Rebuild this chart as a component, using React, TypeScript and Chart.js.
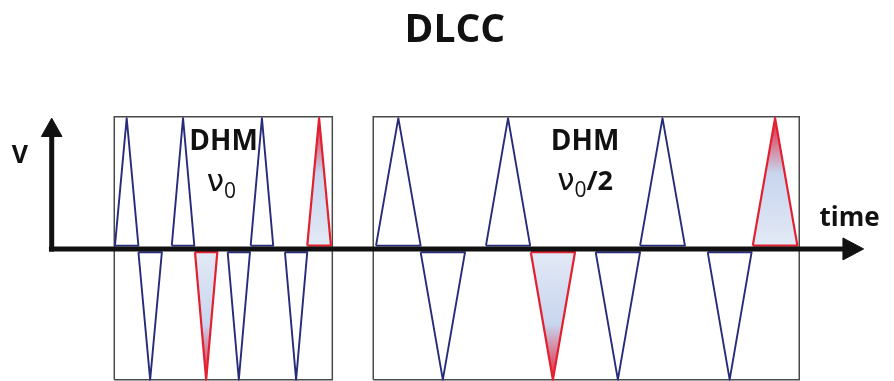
import React, { useEffect, useRef } from "react";
import { Chart, registerables } from "chart.js";

Chart.register(...registerables);

// ---- scale ranges (time in pulse units, V in amplitude units) ----
const X_MIN = -2.248;
const X_MAX = 36.62;
const Y_MIN = -1.01;
const Y_MAX = 1.506;

// ---- pulses ----
const pulseStart = [2.75, 3.77, 5.22, 6.23, 7.65, 8.65, 10.14, 11.11, 14.1, 16.04, 18.88, 20.83, 23.65, 25.58, 28.52, 30.48];
const pulseEnd = [3.77, 4.79, 6.2, 7.2, 8.62, 9.63, 11.11, 12.14, 16.04, 17.97, 20.8, 22.75, 25.58, 27.53, 30.43, 32.42];
const pulseSign = [1, -1, 1, -1, -1, 1, -1, 1, 1, -1, 1, -1, -1, 1, -1, 1];
const pulseMarked = [false, false, false, true, false, false, false, true, false, false, false, true, false, false, false, true];
const pulseAmplitude = 1;
const baseOffset = 0.025;

// ---- boxes ----
const boxLeft = [2.72, 13.98];
const boxRight = [12.2, 32.5];
const boxTop = 1.01;
const boxBottom = -1.0;

// ---- axes ----
const xAxisStart = -0.12;
const xAxisEnd = 34.4;
const xArrowTip = 35.3;
const xArrowHalf = 0.084;
const yAxisBottom = -0.02;
const yAxisEnd = 0.86;
const yArrowTip = 1.0;
const yArrowHalf = 0.448;

// ---- labels ----
const titleText = "DLCC";
const titleT = 17.53;
const titleV = 1.582;
const labelText = ["V", "time", "DHM", "DHM"];
const labelT = [-1.38, 33.38, 7.47, 23.19];
const labelV = [0.659, 0.178, 0.758, 0.758];
const labelAlign: CanvasTextAlign[] = ["center", "left", "center", "center"];
const labelSize = [25, 26, 28, 28];
const nuT = [7.38, 23.19];
const nuV = [0.44, 0.45];
const nuSuffix = ["", "/2"];

const BLUE = "#262b7a";
const RED = "#e3202f";
const BOX = "#4a4a4a";
const INK = "#111111";

const redFill = (sign: number) => (ctx: any) => {
  const chart = ctx.chart;
  if (!chart.chartArea) return "rgba(0,0,0,0)";
  const ys = chart.scales.y;
  const y0 = ys.getPixelForValue(0);
  const y1 = ys.getPixelForValue(sign * pulseAmplitude);
  const g = chart.ctx.createLinearGradient(0, y0, 0, y1);
  g.addColorStop(0, "#e4eaf6");
  g.addColorStop(0.58, "#c7d5ee");
  g.addColorStop(1, "#e4233a");
  return g;
};

const textPlugin = {
  id: "diagramText",
  afterDatasetsDraw(chart: any) {
    const { ctx } = chart;
    const xs = chart.scales.x;
    const ys = chart.scales.y;
    ctx.save();
    ctx.fillStyle = INK;
    ctx.textBaseline = "alphabetic";
    ctx.textAlign = "center";
    ctx.font = "bold 39px 'Open Sans', sans-serif";
    ctx.fillText(titleText, xs.getPixelForValue(titleT), ys.getPixelForValue(titleV));
    labelText.forEach((txt, i) => {
      ctx.font = `bold ${labelSize[i]}px 'Open Sans', sans-serif`;
      ctx.textAlign = labelAlign[i];
      ctx.fillText(txt, xs.getPixelForValue(labelT[i]), ys.getPixelForValue(labelV[i]));
    });
    nuT.forEach((t, i) => {
      const nuFont = "31px 'DejaVu Sans', sans-serif";
      const subFont = "21px 'Open Sans', sans-serif";
      const sufFont = "bold 27px 'Open Sans', sans-serif";
      ctx.font = nuFont;
      const w1 = ctx.measureText("ν").width;
      ctx.font = subFont;
      const w2 = ctx.measureText("0").width;
      ctx.font = sufFont;
      const w3 = nuSuffix[i] ? ctx.measureText(nuSuffix[i]).width : 0;
      const cx = xs.getPixelForValue(t);
      const by = ys.getPixelForValue(nuV[i]);
      let x = cx - (w1 + w2 + w3) / 2;
      ctx.textAlign = "left";
      ctx.font = nuFont;
      ctx.fillText("ν", x, by);
      x += w1;
      ctx.font = subFont;
      ctx.fillText("0", x, by + 7);
      x += w2;
      if (nuSuffix[i]) {
        ctx.font = sufFont;
        ctx.fillText(nuSuffix[i], x, by);
      }
    });
    ctx.restore();
  },
};

export default function App() {
  const ref = useRef<HTMLCanvasElement | null>(null);

  useEffect(() => {
    if (!ref.current) return;
    const datasets: any[] = [];

    // axes (drawn on top of pulses)
    datasets.push({
      data: [{ x: xAxisStart, y: 0 }, { x: xAxisEnd, y: 0 }],
      borderColor: INK,
      borderWidth: 5,
      borderCapStyle: "butt",
      order: 1,
    });
    datasets.push({
      data: [{ x: 0, y: yAxisBottom }, { x: 0, y: yAxisEnd }],
      borderColor: INK,
      borderWidth: 5,
      borderCapStyle: "butt",
      order: 1,
    });
    datasets.push({
      data: [
        { x: xAxisEnd, y: xArrowHalf },
        { x: xArrowTip, y: 0 },
        { x: xAxisEnd, y: -xArrowHalf },
        { x: xAxisEnd, y: xArrowHalf },
      ],
      borderColor: INK,
      borderWidth: 1,
      backgroundColor: INK,
      fill: "shape",
      order: 1,
    });
    datasets.push({
      data: [
        { x: -yArrowHalf, y: yAxisEnd },
        { x: 0, y: yArrowTip },
        { x: yArrowHalf, y: yAxisEnd },
        { x: -yArrowHalf, y: yAxisEnd },
      ],
      borderColor: INK,
      borderWidth: 1,
      backgroundColor: INK,
      fill: "shape",
      order: 1,
    });

    // pulses
    pulseStart.forEach((s, i) => {
      const e = pulseEnd[i];
      const sg = pulseSign[i];
      const b = sg * baseOffset;
      const marked = pulseMarked[i];
      datasets.push({
        data: [
          { x: s, y: b },
          { x: (s + e) / 2, y: sg * pulseAmplitude },
          { x: e, y: b },
          { x: s, y: b },
        ],
        borderColor: marked ? RED : BLUE,
        borderWidth: marked ? 2.2 : 1.9,
        borderJoinStyle: "round",
        backgroundColor: marked ? redFill(sg) : "rgba(0,0,0,0)",
        fill: marked ? "shape" : false,
        order: 2,
      });
    });

    // boxes
    boxLeft.forEach((l, i) => {
      const r = boxRight[i];
      datasets.push({
        data: [
          { x: l, y: boxBottom },
          { x: l, y: boxTop },
          { x: r, y: boxTop },
          { x: r, y: boxBottom },
          { x: l, y: boxBottom },
        ],
        borderColor: BOX,
        borderWidth: 1.5,
        fill: false,
        order: 3,
      });
    });

    const chart = new Chart(ref.current, {
      type: "scatter",
      data: { datasets },
      options: {
        responsive: false,
        animation: false,
        layout: { padding: { top: 52, left: 0, right: 0, bottom: 0 } },
        elements: {
          point: { radius: 0, hoverRadius: 0 },
          line: { tension: 0 },
        },
        datasets: { scatter: { showLine: true } } as any,
        scales: {
          x: { type: "linear", min: X_MIN, max: X_MAX, display: false },
          y: { type: "linear", min: Y_MIN, max: Y_MAX, display: false },
        },
        plugins: {
          legend: { display: false },
          tooltip: { enabled: false },
          title: { display: false },
        },
      },
      plugins: [textPlugin],
    });
    return () => chart.destroy();
  }, []);

  return (
    <div style={{ position: "fixed", left: 0, top: 0, width: 894, height: 381, background: "#fff" }}>
      <canvas ref={ref} width={894} height={381} style={{ display: "block" }} />
    </div>
  );
}
